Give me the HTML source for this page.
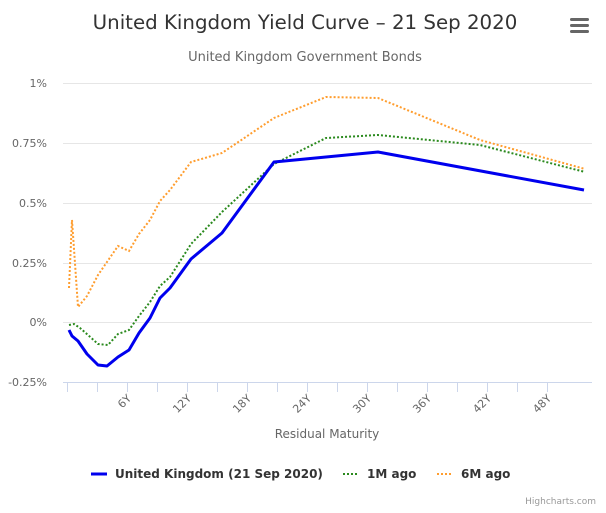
<!DOCTYPE html>
<html><head><style>body{margin:0;background:#fff}svg{display:block;font-family:"DejaVu Sans","Liberation Sans",sans-serif}</style></head><body>
<svg width="606" height="513" viewBox="0 0 606 513">
<text x="305" y="29" text-anchor="middle" font-size="19.8" fill="#333">United Kingdom Yield Curve – 21 Sep 2020</text>
<text x="305" y="61" text-anchor="middle" font-size="13" fill="#666">United Kingdom Government Bonds</text>
<g fill="#666"><rect x="570" y="18" width="19" height="3" rx="1.5"/><rect x="570" y="24" width="19" height="3" rx="1.5"/><rect x="570" y="30" width="19" height="3" rx="1.5"/></g>
<g stroke="#e6e6e6" stroke-width="1">
<line x1="63" x2="592" y1="83.5" y2="83.5"/><line x1="63" x2="592" y1="143.5" y2="143.5"/><line x1="63" x2="592" y1="203.5" y2="203.5"/><line x1="63" x2="592" y1="263.5" y2="263.5"/><line x1="63" x2="592" y1="322.5" y2="322.5"/>
</g>
<line x1="63" x2="592" y1="382.5" y2="382.5" stroke="#ccd6eb"/>
<g stroke="#ccd6eb">
<line x1="67.5" x2="67.5" y1="382" y2="392"/><line x1="97.5" x2="97.5" y1="382" y2="392"/><line x1="127.5" x2="127.5" y1="382" y2="392"/><line x1="157.5" x2="157.5" y1="382" y2="392"/><line x1="187.5" x2="187.5" y1="382" y2="392"/><line x1="217.5" x2="217.5" y1="382" y2="392"/><line x1="247.5" x2="247.5" y1="382" y2="392"/><line x1="277.5" x2="277.5" y1="382" y2="392"/><line x1="307.5" x2="307.5" y1="382" y2="392"/><line x1="337.5" x2="337.5" y1="382" y2="392"/><line x1="367.5" x2="367.5" y1="382" y2="392"/><line x1="397.5" x2="397.5" y1="382" y2="392"/><line x1="427.5" x2="427.5" y1="382" y2="392"/><line x1="457.5" x2="457.5" y1="382" y2="392"/><line x1="487.5" x2="487.5" y1="382" y2="392"/><line x1="517.5" x2="517.5" y1="382" y2="392"/><line x1="547.5" x2="547.5" y1="382" y2="392"/>
</g>
<g font-size="11" fill="#666" text-anchor="end">
<text x="47" y="87">1%</text><text x="47" y="147">0.75%</text><text x="47" y="207">0.5%</text><text x="47" y="267">0.25%</text><text x="47" y="326">0%</text><text x="47" y="386">-0.25%</text>
</g>
<g font-size="11" fill="#666" text-anchor="end">
<text transform="translate(132,399) rotate(-45)">6Y</text>
<text transform="translate(192,399) rotate(-45)">12Y</text>
<text transform="translate(252,399) rotate(-45)">18Y</text>
<text transform="translate(312,399) rotate(-45)">24Y</text>
<text transform="translate(372,399) rotate(-45)">30Y</text>
<text transform="translate(432,399) rotate(-45)">36Y</text>
<text transform="translate(492,399) rotate(-45)">42Y</text>
<text transform="translate(552,399) rotate(-45)">48Y</text>
</g>
<text x="327" y="438" text-anchor="middle" font-size="12" fill="#666">Residual Maturity</text>
<polyline fill="none" stroke="#ff9d2e" stroke-width="2" stroke-dasharray="2,2" points="69,288 72,220 78,307 87,296 98,275 118,246 129,251 139,234 150,220 160,201 170,190 191,162 222,153 274,118 326,97 378,98 480,140 585,169"/>
<polyline fill="none" stroke="#2b8a1e" stroke-width="2" stroke-dasharray="2,2" points="69,325 74,324 80,328 88,335 98,344 108,345 118,334 129,330 139,316 150,302 160,286 170,277 191,244 222,212 274,164 326,138 378,135 480,145 585,172"/>
<polyline fill="none" stroke="#0000ee" stroke-width="3" stroke-linejoin="round" points="69,330 72,336 78,341 87,354 98,365 107,366 118,357 129,350 139,333 150,318 160,298 170,288 191,259 222,233 274,162 326,157 378,152 584,190"/>
<g font-size="12" font-weight="bold" fill="#333">
<line x1="91" x2="107" y1="474" y2="474" stroke="#0000ee" stroke-width="3"/>
<text x="115" y="478">United Kingdom (21 Sep 2020)</text>
<line x1="343" x2="359" y1="474" y2="474" stroke="#2b8a1e" stroke-width="2" stroke-dasharray="2,2"/>
<text x="367" y="478">1M ago</text>
<line x1="437" x2="453" y1="474" y2="474" stroke="#ff9d2e" stroke-width="2" stroke-dasharray="2,2"/>
<text x="461" y="478">6M ago</text>
</g>
<text x="596" y="504" text-anchor="end" font-size="9" fill="#999">Highcharts.com</text>
</svg>
</body></html>
